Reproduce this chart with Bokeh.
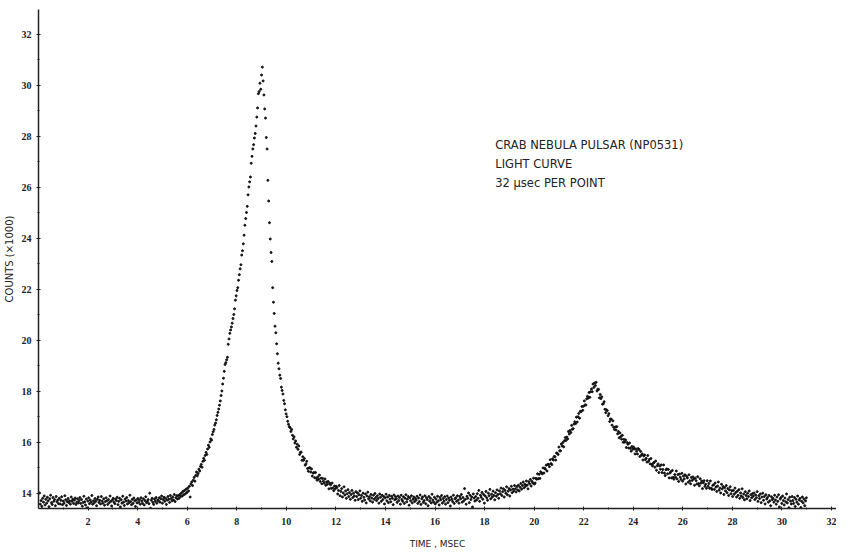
import numpy as np
from bokeh.plotting import figure
from bokeh.models import FixedTicker, Label
from bokeh.embed import file_html
from bokeh.resources import INLINE

# Time grid: first point at 0.04 ms, 32 microseconds per point (from the chart note)
T0 = 0.04
DT = 0.032

# Counts (x1000) * 100, consecutive points
baseline_a = [
    1402, 1358, 1372, 1349, 1381, 1366, 1390, 1355, 1377, 1362, 1385, 1371, 1348, 1379, 1393, 1364, 1357, 1384, 1369, 1376, 1352, 1388, 1367, 1374, 1360,
    1381, 1359, 1373, 1387, 1356, 1370, 1362, 1391, 1375, 1353, 1368, 1380, 1364, 1371, 1358, 1386, 1369, 1377, 1361, 1374, 1382, 1357, 1366, 1379, 1363,
    1372, 1384, 1361, 1376, 1350, 1365, 1389, 1367, 1355, 1378, 1344, 1370, 1383, 1360, 1374, 1366, 1392, 1358, 1371, 1363, 1380, 1369, 1352, 1377, 1386,
    1365, 1373, 1359, 1388, 1370, 1362, 1379, 1354, 1368, 1383, 1371, 1357, 1376, 1364, 1390, 1369, 1351, 1374, 1381, 1366, 1360, 1378, 1372, 1385, 1356,
    1369, 1381, 1347, 1375, 1362, 1389, 1366, 1353, 1378, 1370, 1384, 1359, 1372, 1364, 1393, 1368, 1356, 1377, 1361, 1382, 1371, 1349, 1374, 1363, 1380,
    1366, 1375, 1358, 1383, 1370, 1361, 1379, 1355, 1372, 1387, 1364, 1368, 1376, 1360, 1401, 1342, 1373, 1381, 1365, 1357, 1378, 1369, 1384, 1362, 1374,
    1371, 1383, 1366, 1379, 1390, 1362, 1376, 1385, 1369, 1381, 1357, 1374, 1388, 1377, 1365, 1392, 1380, 1371, 1386, 1374, 1396, 1368, 1383, 1391, 1378,
]

pulse_main = [
    1392, 1381, 1396, 1388, 1402, 1390, 1408, 1395, 1412, 1399, 1417, 1404, 1421, 1410, 1428, 1386, 1437, 1445, 1431, 1452, 1463, 1448, 1471, 1484, 1469,
    1478, 1495, 1488, 1506, 1514, 1503, 1526, 1538, 1530, 1549, 1561, 1553, 1574, 1589, 1581, 1602, 1614, 1609, 1631, 1642, 1651, 1668, 1676, 1689, 1706,
    1718, 1731, 1746, 1763, 1784, 1802, 1829, 1852, 1879, 1906, 1913, 1924, 1934, 1985, 2006, 2028, 2041, 2053, 2068, 2086, 2102, 2124, 2158, 2175, 2196,
    2207, 2236, 2258, 2281, 2297, 2335, 2352, 2379, 2413, 2452, 2478, 2502, 2526, 2571, 2602, 2622, 2641, 2695, 2722, 2751, 2768, 2794, 2812, 2841, 2876,
    2912, 2968, 2976, 3009, 2985, 3041, 3072, 3018, 2963, 2908, 2872, 2796, 2751, 2628, 2547, 2462, 2398, 2345, 2310, 2207, 2150, 2106, 2056, 2030, 1987,
    1948, 1911, 1889, 1864, 1851, 1817, 1804, 1790, 1765, 1752, 1728, 1712, 1701, 1683, 1671, 1662, 1658, 1643, 1651, 1628, 1614, 1622, 1598, 1606, 1581,
    1593, 1573, 1586, 1553, 1561, 1562, 1530, 1544, 1530, 1537, 1511, 1516, 1526, 1498, 1487, 1500, 1501, 1484, 1496, 1468, 1480, 1482, 1462, 1482, 1460,
    1452, 1465, 1456, 1472, 1447, 1460, 1438, 1459, 1448, 1440, 1457, 1432, 1445, 1436, 1447, 1418, 1440, 1434, 1420, 1441, 1421, 1411, 1429, 1418, 1428,
]

interpulse_region = [
    1423, 1398, 1412, 1431, 1391, 1408, 1419, 1386, 1402, 1426, 1394, 1410, 1381, 1399, 1415, 1388, 1404, 1377, 1396, 1412, 1384, 1401, 1390, 1373, 1407,
    1388, 1402, 1376, 1395, 1410, 1381, 1392, 1369, 1401, 1385, 1374, 1398, 1363, 1390, 1405, 1379, 1387, 1371, 1396, 1382, 1366, 1393, 1377, 1400, 1384,
    1372, 1391, 1380, 1362, 1398, 1385, 1369, 1393, 1376, 1388, 1359, 1383, 1397, 1371, 1386, 1364, 1392, 1378, 1367, 1389, 1381, 1356, 1394, 1375, 1387,
    1379, 1365, 1390, 1372, 1384, 1358, 1393, 1376, 1369, 1387, 1361, 1381, 1395, 1367, 1378, 1388, 1354, 1383, 1371, 1391, 1363, 1377, 1386, 1368, 1380,
    1374, 1389, 1361, 1382, 1368, 1394, 1357, 1379, 1386, 1365, 1372, 1391, 1360, 1383, 1376, 1352, 1388, 1370, 1381, 1363, 1397, 1374, 1366, 1385, 1359,
    1378, 1366, 1389, 1371, 1355, 1384, 1375, 1392, 1362, 1380, 1369, 1387, 1358, 1376, 1390, 1364, 1382, 1373, 1351, 1386, 1377, 1368, 1393, 1361, 1379,
    1383, 1369, 1391, 1374, 1362, 1388, 1379, 1396, 1366, 1384, 1371, 1419, 1377, 1358, 1389, 1381, 1402, 1364, 1393, 1376, 1386, 1347, 1398, 1382, 1370,
    1388, 1374, 1399, 1381, 1412, 1369, 1393, 1385, 1404, 1377, 1396, 1362, 1390, 1408, 1383, 1373, 1401, 1391, 1416, 1379, 1397, 1386, 1409, 1392, 1375,
    1403, 1389, 1414, 1396, 1381, 1410, 1399, 1421, 1392, 1407, 1418, 1386, 1412, 1401, 1426, 1395, 1409, 1419, 1390, 1414, 1428, 1403, 1417, 1409, 1431,
    1418, 1406, 1427, 1414, 1432, 1410, 1424, 1439, 1417, 1431, 1445, 1422, 1436, 1428, 1449, 1433, 1418, 1446, 1438, 1455, 1429, 1447, 1441, 1460, 1437,
]

pulse_inter = [
    1441, 1459, 1456, 1477, 1458, 1475, 1459, 1485, 1480, 1477, 1500, 1480, 1499, 1495, 1511, 1488, 1514, 1514, 1505, 1532, 1517, 1513, 1536, 1531, 1545,
    1544, 1531, 1559, 1557, 1553, 1582, 1567, 1567, 1594, 1586, 1600, 1583, 1607, 1619, 1608, 1621, 1614, 1643, 1633, 1647, 1639, 1667, 1652, 1654, 1672,
    1681, 1674, 1699, 1680, 1701, 1714, 1695, 1722, 1721, 1741, 1726, 1742, 1763, 1747, 1747, 1771, 1781, 1774, 1796, 1777, 1799, 1810, 1799, 1829, 1816,
    1833, 1823, 1836, 1802, 1809, 1808, 1775, 1788, 1772, 1779, 1750, 1752, 1760, 1730, 1717, 1728, 1725, 1705, 1713, 1682, 1692, 1691, 1668, 1685, 1660,
    1651, 1661, 1649, 1662, 1634, 1643, 1618, 1637, 1623, 1613, 1628, 1601, 1612, 1601, 1610, 1580, 1600, 1593, 1578, 1598, 1577, 1566, 1584, 1573, 1582,
    1575, 1555, 1575, 1566, 1555, 1576, 1572, 1545, 1565, 1550, 1555, 1531, 1547, 1551, 1533, 1538, 1523, 1549, 1526, 1533, 1516, 1537, 1514, 1508, 1518,
    1522, 1503, 1527, 1491, 1509, 1516, 1482, 1508, 1495, 1512, 1482, 1494, 1512, 1480, 1470, 1493, 1496, 1477, 1494, 1461, 1480, 1485, 1461, 1490, 1463,
    1456, 1474, 1464, 1488, 1457, 1474, 1447, 1476, 1464, 1455, 1479, 1448, 1468, 1457, 1473, 1437, 1467, 1461, 1444, 1473, 1450, 1438, 1463, 1451, 1465,
    1457, 1432, 1460, 1450, 1437, 1466, 1439, 1430, 1458, 1440, 1449, 1419, 1442, 1450, 1428, 1436, 1420, 1450, 1428, 1439, 1420, 1449, 1421, 1416, 1432,
    1434, 1416, 1441, 1425, 1408, 1429, 1445, 1413, 1421, 1402, 1436, 1418, 1427, 1396, 1423, 1410, 1431, 1403, 1419, 1392, 1414, 1426, 1399, 1411, 1388,
    1412, 1397, 1421, 1404, 1386, 1409, 1393, 1415, 1381, 1402, 1390, 1418, 1384, 1398, 1375, 1407, 1392, 1379, 1401, 1388, 1410, 1372, 1395, 1383, 1399,
    1389, 1402, 1376, 1394, 1383, 1407, 1369, 1391, 1380, 1398, 1364, 1386, 1401, 1373, 1388, 1359, 1395, 1378, 1384, 1366, 1392, 1371, 1352, 1387, 1376,
    1381, 1366, 1393, 1374, 1358, 1386, 1369, 1395, 1347, 1378, 1384, 1361, 1390, 1372, 1355, 1382, 1367, 1398, 1363, 1376, 1344, 1385, 1370, 1359, 1388,
    1372, 1361, 1384, 1349, 1377, 1366, 1390, 1358, 1374, 1381, 1345, 1369, 1386, 1363, 1378, 1352, 1371, 1383,
]

x_ticks = [2, 4, 6, 8, 10, 12, 14, 16, 18, 20, 22, 24, 26, 28, 30, 32]
x_minor = [1, 3, 5, 7, 9, 11, 13, 15, 17, 19, 21, 23, 25, 27, 29, 31]
y_ticks = [14, 16, 18, 20, 22, 24, 26, 28, 30, 32]
y_minor = [15, 17, 19, 21, 23, 25, 27, 29, 31]

notes = ["CRAB NEBULA PULSAR (NP0531)", "LIGHT CURVE", "32 \u03bcsec PER POINT"]

counts = np.array(baseline_a + pulse_main + interpulse_region + pulse_inter) / 100.0
time = T0 + DT * np.arange(len(counts))

p = figure(width=836, height=552, x_range=(0, 32.2), y_range=(13.41, 32.98),
           output_backend="svg", toolbar_location=None,
           min_border_left=32, min_border_right=0, min_border_top=9, min_border_bottom=44)
p.outline_line_color = None
p.grid.visible = False
p.background_fill_color = "white"

p.scatter(time, counts, size=2.0, color="#111111", marker="circle")

LABEL_FONT = "Liberation Sans Narrow"
for ax in (p.xaxis[0], p.yaxis[0]):
    ax.axis_line_color = "#222222"
    ax.axis_line_width = 1.5
    ax.major_tick_line_color = "#222222"
    ax.minor_tick_line_color = "#222222"
    ax.major_tick_in = 2
    ax.major_tick_out = 2
    ax.minor_tick_in = 1
    ax.minor_tick_out = 1
    ax.major_label_text_font = LABEL_FONT
    ax.major_label_text_font_style = "bold"
    ax.major_label_text_font_size = "10px"
    ax.major_label_text_color = "#222222"
    ax.axis_label_text_font = "DejaVu Sans"
    ax.axis_label_text_font_style = "normal"
    ax.axis_label_text_color = "#222222"

p.xaxis.axis_label_text_font_size = "9px"
p.yaxis.axis_label_text_font_size = "10px"
p.xaxis.ticker = FixedTicker(ticks=x_ticks, minor_ticks=x_minor)
p.yaxis.ticker = FixedTicker(ticks=y_ticks, minor_ticks=y_minor)
p.xaxis.major_label_standoff = 7
p.yaxis.major_label_standoff = 5
p.xaxis.axis_label = "TIME , MSEC"
p.yaxis.axis_label = "COUNTS (\u00d71000)"
p.xaxis.axis_label_standoff = 11
p.yaxis.axis_label_standoff = 4

for i, txt in enumerate(notes):
    p.add_layout(Label(x=18.43, y=27.65 - 0.745 * i, text=txt,
                       text_font="DejaVu Sans", text_font_size="11.5px",
                       text_color="#222222", text_baseline="middle"))

open("out.html", "w").write(file_html(p, INLINE))
